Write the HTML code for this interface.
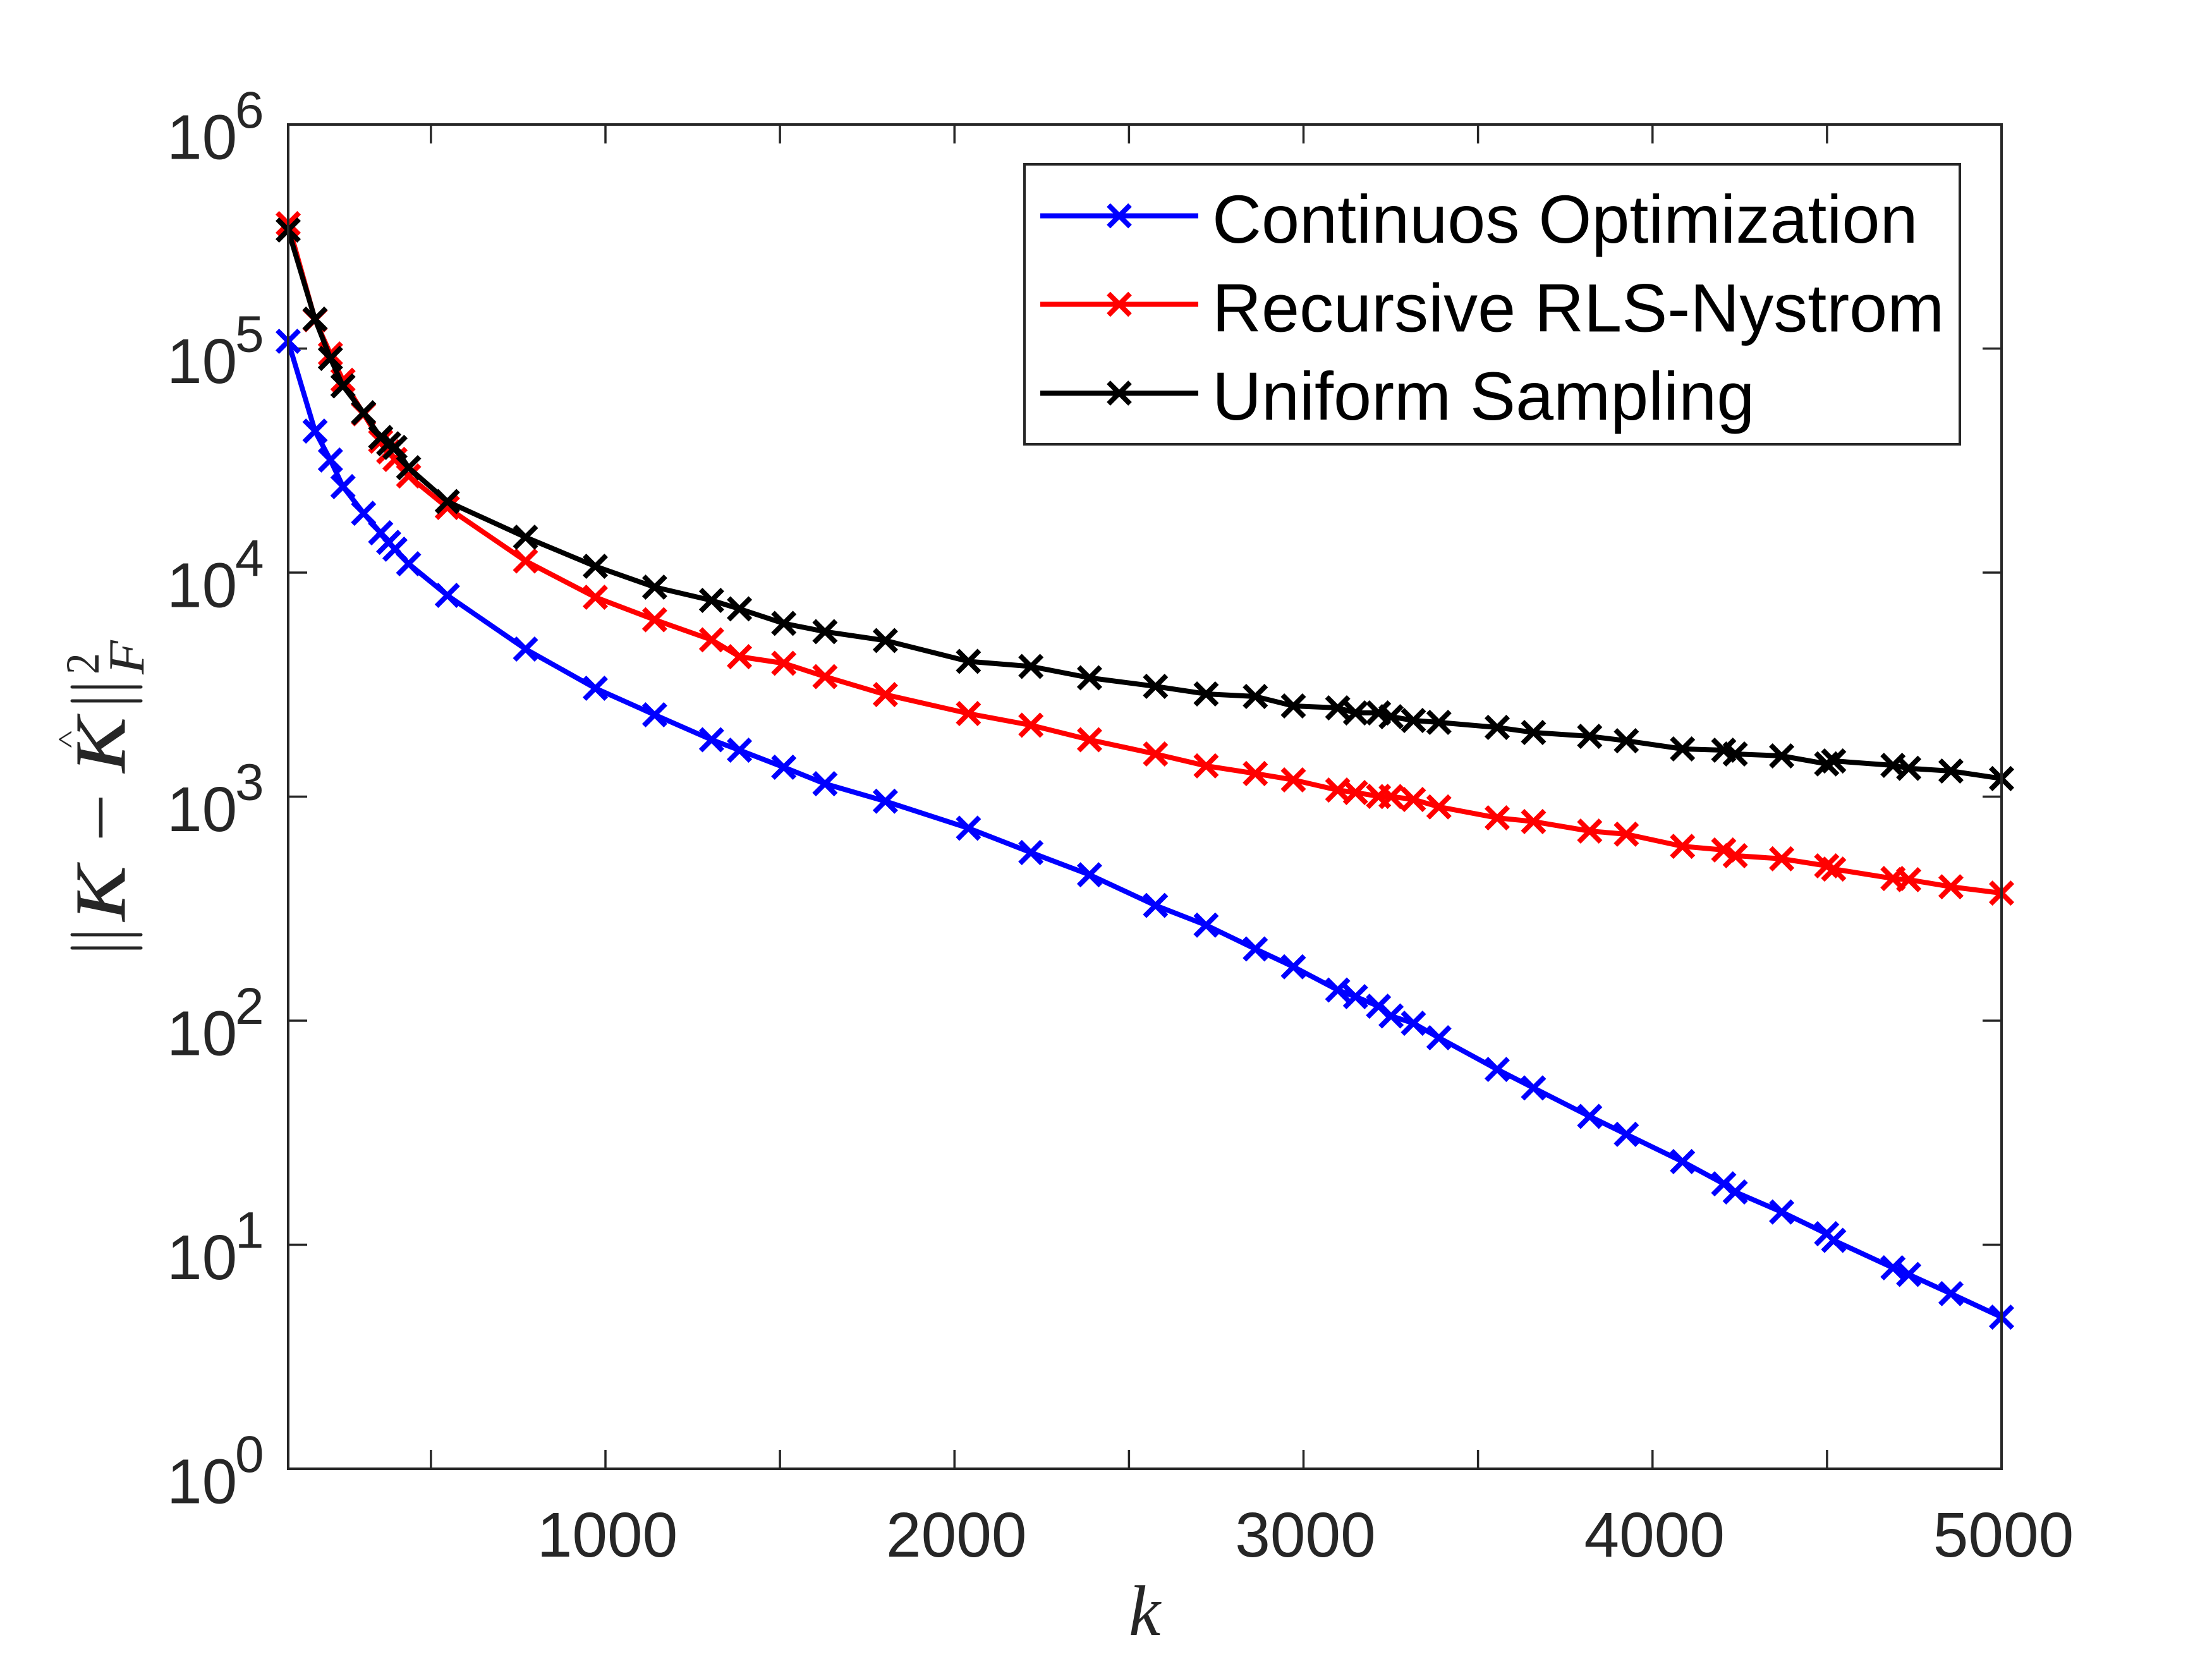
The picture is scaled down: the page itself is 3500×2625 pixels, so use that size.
<!DOCTYPE html>
<html lang="en">
<head>
<meta charset="utf-8">
<title>Approximation error vs k</title>
<style>
html,body{margin:0;padding:0;background:#fff;}
svg{display:block;}
</style>
</head>
<body>
<svg id="chart" xmlns="http://www.w3.org/2000/svg" width="3500" height="2625" viewBox="0 0 3500 2625" font-family="'Liberation Sans', sans-serif">
  <rect x="0" y="0" width="3500" height="2625" fill="#ffffff"/>
  <g id="ticks"></g>
  <g id="x-labels"></g>
  <g id="y-labels"></g>
  <g id="series"></g>
  <rect x="456" y="197" width="2711" height="2127" fill="none" stroke="#262626" stroke-width="4"/>

  <text x="1786" y="2587" font-family="'Liberation Serif', serif" font-style="italic" font-size="113" fill="#262626">k</text>

  <g fill="#262626" font-family="'Liberation Serif', serif">
    <line x1="114" y1="1500" x2="223" y2="1500" stroke="#262626" stroke-width="5" stroke-linecap="round"/>
    <line x1="114" y1="1479" x2="223" y2="1479" stroke="#262626" stroke-width="5" stroke-linecap="round"/>
    <text transform="translate(197,1457) rotate(-90) scale(1.15,1)" font-size="113" font-style="italic" stroke="#262626" stroke-width="1">K</text>
    <text transform="translate(197,1332) rotate(-90) scale(1.2,1)" font-size="113">−</text>
    <text transform="translate(197,1222) rotate(-90) scale(1.15,1)" font-size="113" font-style="italic" stroke="#262626" stroke-width="1">K</text>
    <text transform="translate(120.8,1184) rotate(-90) scale(1,0.7)" font-size="60">^</text>
    <line x1="114" y1="1109" x2="223" y2="1109" stroke="#262626" stroke-width="5" stroke-linecap="round"/>
    <line x1="114" y1="1087" x2="223" y2="1087" stroke="#262626" stroke-width="5" stroke-linecap="round"/>
    <text transform="translate(156,1067) rotate(-90) scale(0.9,1)" font-size="75">2</text>
    <text transform="translate(227,1067) rotate(-90) scale(1.1,1)" font-size="80" font-style="italic">F</text>
  </g>

  <g>
    <rect x="1621" y="260" width="1480" height="443" fill="#ffffff" stroke="#262626" stroke-width="4"/>
    <g>
      <line x1="1646" y1="341.5" x2="1896" y2="341.5" stroke="#0000ff" stroke-width="8"/>
      <path d="M1754,324.5L1788,358.5M1754,358.5L1788,324.5" stroke="#0000ff" stroke-width="8" fill="none"/>
      <text x="1918" y="384" font-size="108" fill="#000000">Continuos Optimization</text>
    </g>
    <g>
      <line x1="1646" y1="481.5" x2="1896" y2="481.5" stroke="#ff0000" stroke-width="8"/>
      <path d="M1754,464.5L1788,498.5M1754,498.5L1788,464.5" stroke="#ff0000" stroke-width="8" fill="none"/>
      <text x="1918" y="524.5" font-size="108" fill="#000000">Recursive RLS-Nystrom</text>
    </g>
    <g>
      <line x1="1646" y1="622" x2="1896" y2="622" stroke="#000000" stroke-width="8"/>
      <path d="M1754,605L1788,639M1754,639L1788,605" stroke="#000000" stroke-width="8" fill="none"/>
      <text x="1918" y="664" font-size="108" fill="#000000">Uniform Sampling</text>
    </g>
  </g>
</svg>

<script>
const kValues = [91,168,212,248,307,356,379,397,436,547,771,971,1141,1304,1384,1511,1629,1802,2040,2219,2387,2576,2721,2862,2971,3098,3149,3215,3251,3315,3388,3555,3659,3820,3925,4086,4204,4237,4370,4499,4519,4689,4734,4855,5000];

const continuousErrors = [107750,42800,31800,24200,18400,15050,13650,12720,10950,7915,4557,3046,2319,1794,1612,1353,1142,954,723,563,448,327,267,209,174,137,128,116,105,97.4,83.9,60.6,50.1,37.4,31.1,23.5,18.7,17.2,14.0,11.2,10.46,7.89,7.37,6.05,4.75];

const recursiveErrors = [361000,134400,94600,72200,51100,38600,34600,32000,27000,19520,11270,7762,6160,5010,4214,3938,3433,2855,2349,2084,1794,1550,1372,1268,1188,1070,1043,1003,1001,971,900,804,774,702,680,600,578,545,528,491,475,431,426,396,371];

const uniformErrors = [338000,135300,90400,68100,51700,40100,37600,36200,29400,20760,14390,10670,8612,7514,6888,5932,5450,4975,4016,3812,3391,3106,2874,2800,2540,2490,2364,2364,2274,2187,2145,2037,1933,1859,1776,1633,1612,1550,1520,1400,1443,1379,1338,1301,1204];

const xTickValues = [500,1000,1500,2000,2500,3000,3500,4000,4500];
const xTickLabels = [1000,2000,3000,4000,5000];
const yTickExponents = [0,1,2,3,4,5,6];

const SVG_NS = 'http://www.w3.org/2000/svg';
const AXES = {left:456, right:3167, top:197, bottom:2324, xMin:91, xMax:5000, yMinExp:0, yMaxExp:6};
const TICK_LEN = 30;
const MARK = 17.2;

function xScale(k){
  return AXES.left + (k - AXES.xMin) * (AXES.right - AXES.left) / (AXES.xMax - AXES.xMin);
}
function yScale(v){
  return AXES.bottom - (Math.log10(v) - AXES.yMinExp) * (AXES.bottom - AXES.top) / (AXES.yMaxExp - AXES.yMinExp);
}
function make(tag, parent){
  const el = document.createElementNS(SVG_NS, tag);
  parent.appendChild(el);
  return el;
}

const ticksGroup = document.getElementById('ticks');
xTickValues.forEach(function(t){
  const x = xScale(t);
  const bottomTick = make('line', ticksGroup);
  
  
  bottomTick.setAttribute('x1', x); bottomTick.setAttribute('x2', x);
  bottomTick.setAttribute('y1', AXES.bottom); bottomTick.setAttribute('y2', AXES.bottom - TICK_LEN);
  bottomTick.setAttribute('stroke', '#262626'); bottomTick.setAttribute('stroke-width', '3.5');
  const topTick = make('line', ticksGroup);
  
  
  topTick.setAttribute('x1', x); topTick.setAttribute('x2', x);
  topTick.setAttribute('y1', AXES.top); topTick.setAttribute('y2', AXES.top + TICK_LEN);
  topTick.setAttribute('stroke', '#262626'); topTick.setAttribute('stroke-width', '3.5');
});
yTickExponents.forEach(function(e){
  const y = yScale(Math.pow(10, e));
  const leftTick = make('line', ticksGroup);
  
  
  leftTick.setAttribute('x1', AXES.left); leftTick.setAttribute('x2', AXES.left + TICK_LEN);
  leftTick.setAttribute('y1', y); leftTick.setAttribute('y2', y);
  leftTick.setAttribute('stroke', '#262626'); leftTick.setAttribute('stroke-width', '3.5');
  const rightTick = make('line', ticksGroup);
  
  
  rightTick.setAttribute('x1', AXES.right); rightTick.setAttribute('x2', AXES.right - TICK_LEN);
  rightTick.setAttribute('y1', y); rightTick.setAttribute('y2', y);
  rightTick.setAttribute('stroke', '#262626'); rightTick.setAttribute('stroke-width', '3.5');
});

const xLabelGroup = document.getElementById('x-labels');
xTickLabels.forEach(function(t){
  const label = make('text', xLabelGroup);
  
  
  label.setAttribute('x', xScale(t) + 3);
  label.setAttribute('y', 2463);
  label.setAttribute('text-anchor', 'middle');
  label.setAttribute('font-size', '100');
  label.setAttribute('fill', '#262626');
  label.textContent = String(t);
});

const yLabelGroup = document.getElementById('y-labels');
yTickExponents.forEach(function(e){
  const y = yScale(Math.pow(10, e));
  const base = make('text', yLabelGroup);
  
  
  base.setAttribute('x', 264);
  base.setAttribute('y', y + 54.5);
  base.setAttribute('font-size', '100');
  base.setAttribute('fill', '#262626');
  base.textContent = '10';
  const exponent = make('text', yLabelGroup);
  
  
  exponent.setAttribute('x', 372);
  exponent.setAttribute('y', y + 5);
  exponent.setAttribute('font-size', '82');
  exponent.setAttribute('fill', '#262626');
  exponent.textContent = String(e);
});

function drawSeries(values, color, name){
  const parent = document.getElementById('series');
  const group = make('g', parent);
  
  
  const pts = values.map(function(v, i){
    return xScale(kValues[i]).toFixed(1) + ',' + yScale(v).toFixed(1);
  });
  const line = make('polyline', group);
  
  
  line.setAttribute('points', pts.join(' '));
  line.setAttribute('fill', 'none');
  line.setAttribute('stroke', color);
  line.setAttribute('stroke-width', '8');
  line.setAttribute('stroke-linejoin', 'round');
  values.forEach(function(v, i){
    const x = xScale(kValues[i]);
    const y = yScale(v);
    const marker = make('path', group);
    
    
    marker.setAttribute('d', 'M' + (x - MARK) + ',' + (y - MARK) + 'L' + (x + MARK) + ',' + (y + MARK) +
      'M' + (x - MARK) + ',' + (y + MARK) + 'L' + (x + MARK) + ',' + (y - MARK));
    marker.setAttribute('fill', 'none');
    marker.setAttribute('stroke', color);
    marker.setAttribute('stroke-width', '8');
  });
}

drawSeries(continuousErrors, '#0000ff', 'continuos-optimization-series');
drawSeries(recursiveErrors, '#ff0000', 'recursive-rls-nystrom-series');
drawSeries(uniformErrors, '#000000', 'uniform-sampling-series');
</script>
</body>
</html>
